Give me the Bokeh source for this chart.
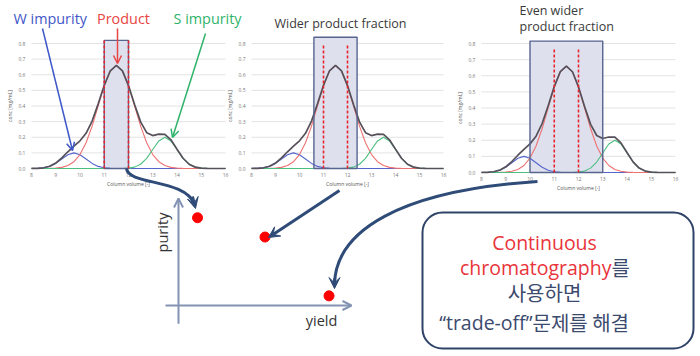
import numpy as np
from bokeh.plotting import figure
from bokeh.models import Range1d, Arrow, VeeHead, OpenHead, BoxAnnotation
from bokeh.embed import file_html
from bokeh.resources import INLINE
from bokeh.core.properties import value

# ---------------- data ----------------
column_volume = [8.0, 8.25, 8.5, 8.75, 9.0, 9.25, 9.5, 9.75, 10.0, 10.25, 10.5, 10.75,
                 11.0, 11.25, 11.5, 11.75, 12.0, 12.25, 12.5, 12.75, 13.0, 13.25, 13.5, 13.75,
                 14.0, 14.25, 14.5, 14.75, 15.0, 15.25, 15.5, 15.75, 16.0]
w_impurity = [0.0002, 0.0011, 0.0044, 0.0135, 0.0325, 0.0607, 0.0882, 0.1000, 0.0882, 0.0607,
              0.0325, 0.0135, 0.0044, 0.0011, 0.0002, 0.0, 0.0, 0.0, 0.0, 0.0, 0.0, 0.0, 0.0,
              0.0, 0.0, 0.0, 0.0, 0.0, 0.0, 0.0, 0.0, 0.0, 0.0]
product = [0.0, 0.0001, 0.0002, 0.0008, 0.0025, 0.0073, 0.0189, 0.0434, 0.0893, 0.1646,
           0.2713, 0.4003, 0.5285, 0.6244, 0.6600, 0.6244, 0.5285, 0.4003, 0.2713, 0.1646,
           0.0893, 0.0434, 0.0189, 0.0073, 0.0025, 0.0008, 0.0002, 0.0001, 0.0, 0.0, 0.0, 0.0, 0.0]
s_impurity = [0.0, 0.0, 0.0, 0.0, 0.0, 0.0, 0.0, 0.0, 0.0, 0.0, 0.0, 0.0, 0.0, 0.0, 0.0,
              0.0004, 0.0022, 0.0088, 0.0271, 0.0649, 0.1213, 0.1765, 0.2000, 0.1765, 0.1213,
              0.0649, 0.0271, 0.0088, 0.0022, 0.0004, 0.0, 0.0, 0.0]
cv_ticks = [8, 9, 10, 11, 12, 13, 14, 15, 16]
conc_ticks = [0.0, 0.1, 0.2, 0.3, 0.4, 0.5, 0.6, 0.7, 0.8]
fraction_start = [11.0, 10.6, 10.0]
fraction_end = [12.0, 12.4, 13.0]
fraction_top = [0.82, 0.84, 0.815]
product_cut = [11.0, 12.0]
cut_top = [0.82, 0.80, 0.77]
yield_values = [0.11, 0.50, 0.87]
purity_values = [0.82, 0.64, 0.09]

total = (np.array(w_impurity) + np.array(product) + np.array(s_impurity)).tolist()

# ---------------- layout (pixels) ----------------
W, H = 700, 356
PANELS = [dict(x8=31, x16=225, y0=168, y08=43),
          dict(x8=251, x16=443, y0=168, y08=43),
          dict(x8=481, x16=675, y0=172, y08=43)]
SC = dict(ox=178, oy=305, x1=351, y1=198)

NAVY = "#2f4b77"
BLUE_T = "#3f57c8"
RED_T = "#e84545"
GREEN_T = "#2fb36a"
BOX_RED = "#e8343a"
BOX_NAVY = "#3c4a6e"
OS = value("Open Sans")
KR = value("Noto Sans CJK KR")

p = figure(width=W, height=H, x_range=Range1d(0, W), y_range=Range1d(H, 0),
           output_backend="svg", toolbar_location=None, min_border=0,
           x_axis_location=None, y_axis_location=None)
p.outline_line_color = None
p.grid.visible = False

xr, yr = {}, {}
for i, pn in enumerate(PANELS):
    b = (pn["x16"] - pn["x8"]) / 8.0
    xr[f"cv{i}"] = Range1d(8 - pn["x8"] / b, 8 + (W - pn["x8"]) / b)
    k = (pn["y0"] - pn["y08"]) / 0.8
    yr[f"conc{i}"] = Range1d((pn["y0"] - H) / k, pn["y0"] / k)
bx = SC["x1"] - SC["ox"]
by = SC["oy"] - SC["y1"]
xr["yield"] = Range1d(-SC["ox"] / bx, (W - SC["ox"]) / bx)
yr["purity"] = Range1d((SC["oy"] - H) / by, SC["oy"] / by)
p.extra_x_ranges = xr
p.extra_y_ranges = yr

# ---------------- three chromatograms ----------------
for i in range(3):
    rn = dict(x_range_name=f"cv{i}", y_range_name=f"conc{i}")
    n = len(conc_ticks)
    p.segment(x0=[cv_ticks[0]] * n, y0=conc_ticks, x1=[cv_ticks[-1]] * n, y1=conc_ticks,
              line_color="#dcdcdc", line_width=0.8, **rn)
    p.quad(left=[fraction_start[i]], right=[fraction_end[i]], bottom=[0], top=[fraction_top[i]],
           fill_color="#dfe0ee", line_color=None, **rn)
    p.line(column_volume, w_impurity, line_color="#5466cc", line_width=1.1, **rn)
    p.line(column_volume, product, line_color="#ee7272", line_width=1.1, **rn)
    p.line(column_volume, s_impurity, line_color="#4cbf80", line_width=1.1, **rn)
    p.line(column_volume, total, line_color="#55505a", line_width=1.7, **rn)
    p.quad(left=[fraction_start[i]], right=[fraction_end[i]], bottom=[0], top=[fraction_top[i]],
           fill_color=None, line_color="#56648f", line_width=1.4, **rn)
    p.segment(x0=product_cut, y0=[0, 0], x1=product_cut, y1=[cut_top[i]] * 2,
              line_color="#e8242a", line_width=1.6, line_dash="3 2", **rn)
    p.text(x=[7.75] * n, y=conc_ticks, text=[f"{v:.1f}" for v in conc_ticks],
           text_font=OS, text_font_size="5px", text_color="#777777",
           text_align="right", text_baseline="middle", **rn)
    p.text(x=cv_ticks, y=[-0.03] * len(cv_ticks), text=[str(v) for v in cv_ticks],
           text_font=OS, text_font_size="5px", text_color="#777777",
           text_align="center", text_baseline="top", **rn)
    p.text(x=[12.0], y=[-0.08], text=["Column volume [-]"],
           text_font=OS, text_font_size="5px", text_color="#555555",
           text_align="center", text_baseline="top", **rn)
    p.text(x=[7.1], y=[0.4], text=["conc [mg/mL]"], angle=np.pi / 2,
           text_font=OS, text_font_size="5px", text_color="#555555",
           text_align="center", text_baseline="middle", **rn)

# ---------------- labels of first panel ----------------
p.text(x=[13], y=[18], text=["W impurity"], text_font=OS, text_font_size="14.4px",
       text_color=BLUE_T, text_align="left", text_baseline="middle")
p.text(x=[123], y=[18], text=["Product"], text_font=OS, text_font_size="14.4px",
       text_color=RED_T, text_align="center", text_baseline="middle")
p.text(x=[173], y=[18], text=["S impurity"], text_font=OS, text_font_size="14.4px",
       text_color=GREEN_T, text_align="left", text_baseline="middle")
for (xs, ys, xe, ye, c) in [(42, 28, 72, 150, BLUE_T), (117, 28, 117, 63, RED_T),
                            (205, 33, 172, 137, GREEN_T)]:
    p.add_layout(Arrow(x_start=xs, y_start=ys, x_end=xe, y_end=ye, line_color=c, line_width=1.5,
                       end=OpenHead(size=8, line_color=c, line_width=1.5)))

p.text(x=[340], y=[23], text=["Wider product fraction"], text_font=OS, text_font_size="12.5px",
       text_color="#3a3a3a", text_align="center", text_baseline="middle")
p.text(x=[519, 519], y=[10, 26], text=["Even wider", "product fraction"], text_font=OS,
       text_font_size="12.5px", text_color="#3a3a3a", text_align="left", text_baseline="middle")

# ---------------- purity / yield plot ----------------
sn = dict(x_range_name="yield", y_range_name="purity")
AX = "#8393b4"
p.add_layout(Arrow(x_start=-0.075, y_start=0, x_end=1.0, y_end=0, line_color=AX, line_width=2,
                   end=OpenHead(size=9, line_color=AX, line_width=2), **sn))
p.add_layout(Arrow(x_start=0, y_start=-0.17, x_end=0, y_end=1.0, line_color=AX, line_width=2,
                   end=OpenHead(size=9, line_color=AX, line_width=2), **sn))
p.scatter(yield_values, purity_values, size=10, fill_color="#ff0000", line_color="#ff0000", **sn)
p.text(x=[162], y=[232], text=["purity"], angle=np.pi / 2, text_font=OS, text_font_size="14.5px",
       text_color="#333333", text_align="center", text_baseline="middle")
p.text(x=[321], y=[320], text=["yield"], text_font=OS, text_font_size="14.5px",
       text_color="#333333", text_align="center", text_baseline="middle")

# ---------------- connecting arrows ----------------
p.bezier(x0=[126, 537], y0=[168, 181], x1=[194, 334], y1=[204, 284],
         cx0=[128, 400], cy0=[185, 190], cx1=[185, 335], cy1=[178, 230],
         line_color=NAVY, line_width=3)
p.add_layout(Arrow(x_start=192, y_start=196, x_end=195, y_end=208, line_color=NAVY, line_width=3,
                   end=VeeHead(size=11, fill_color=NAVY, line_color=NAVY)))
p.add_layout(Arrow(x_start=339, y_start=190, x_end=268, y_end=237, line_color=NAVY, line_width=3,
                   end=VeeHead(size=11, fill_color=NAVY, line_color=NAVY)))
p.add_layout(Arrow(x_start=334, y_start=278, x_end=334, y_end=288, line_color=NAVY, line_width=3,
                   end=VeeHead(size=11, fill_color=NAVY, line_color=NAVY)))

# ---------------- message box ----------------
p.add_layout(BoxAnnotation(left=422, right=693, top=212, bottom=348, border_radius=20,
                           fill_color=None, line_color="#2f4368", line_alpha=1.0, line_width=2,
                           level="underlay"))
p.text(x=[544], y=[242], text=["Continuous"], text_font=OS, text_font_size="19.5px",
       text_color=BOX_RED, text_align="center", text_baseline="middle")
p.text(x=[611], y=[267], text=["chromatography"], text_font=OS, text_font_size="19.5px",
       text_color=BOX_RED, text_align="right", text_baseline="middle")
p.text(x=[611], y=[267], text=["를"], text_font=KR, text_font_size="20px",
       text_color=BOX_NAVY, text_align="left", text_baseline="middle")
p.text(x=[544], y=[292], text=["사용하면"], text_font=KR, text_font_size="20px",
       text_color=BOX_NAVY, text_align="center", text_baseline="middle")
p.text(x=[532], y=[322], text=["“trade-off”"], text_font=OS, text_font_size="19.5px",
       text_color=BOX_NAVY, text_align="right", text_baseline="middle")
p.text(x=[532], y=[322], text=["문제를 해결"], text_font=KR, text_font_size="20px",
       text_color=BOX_NAVY, text_align="left", text_baseline="middle")

open("out.html", "w").write(file_html(p, INLINE))
